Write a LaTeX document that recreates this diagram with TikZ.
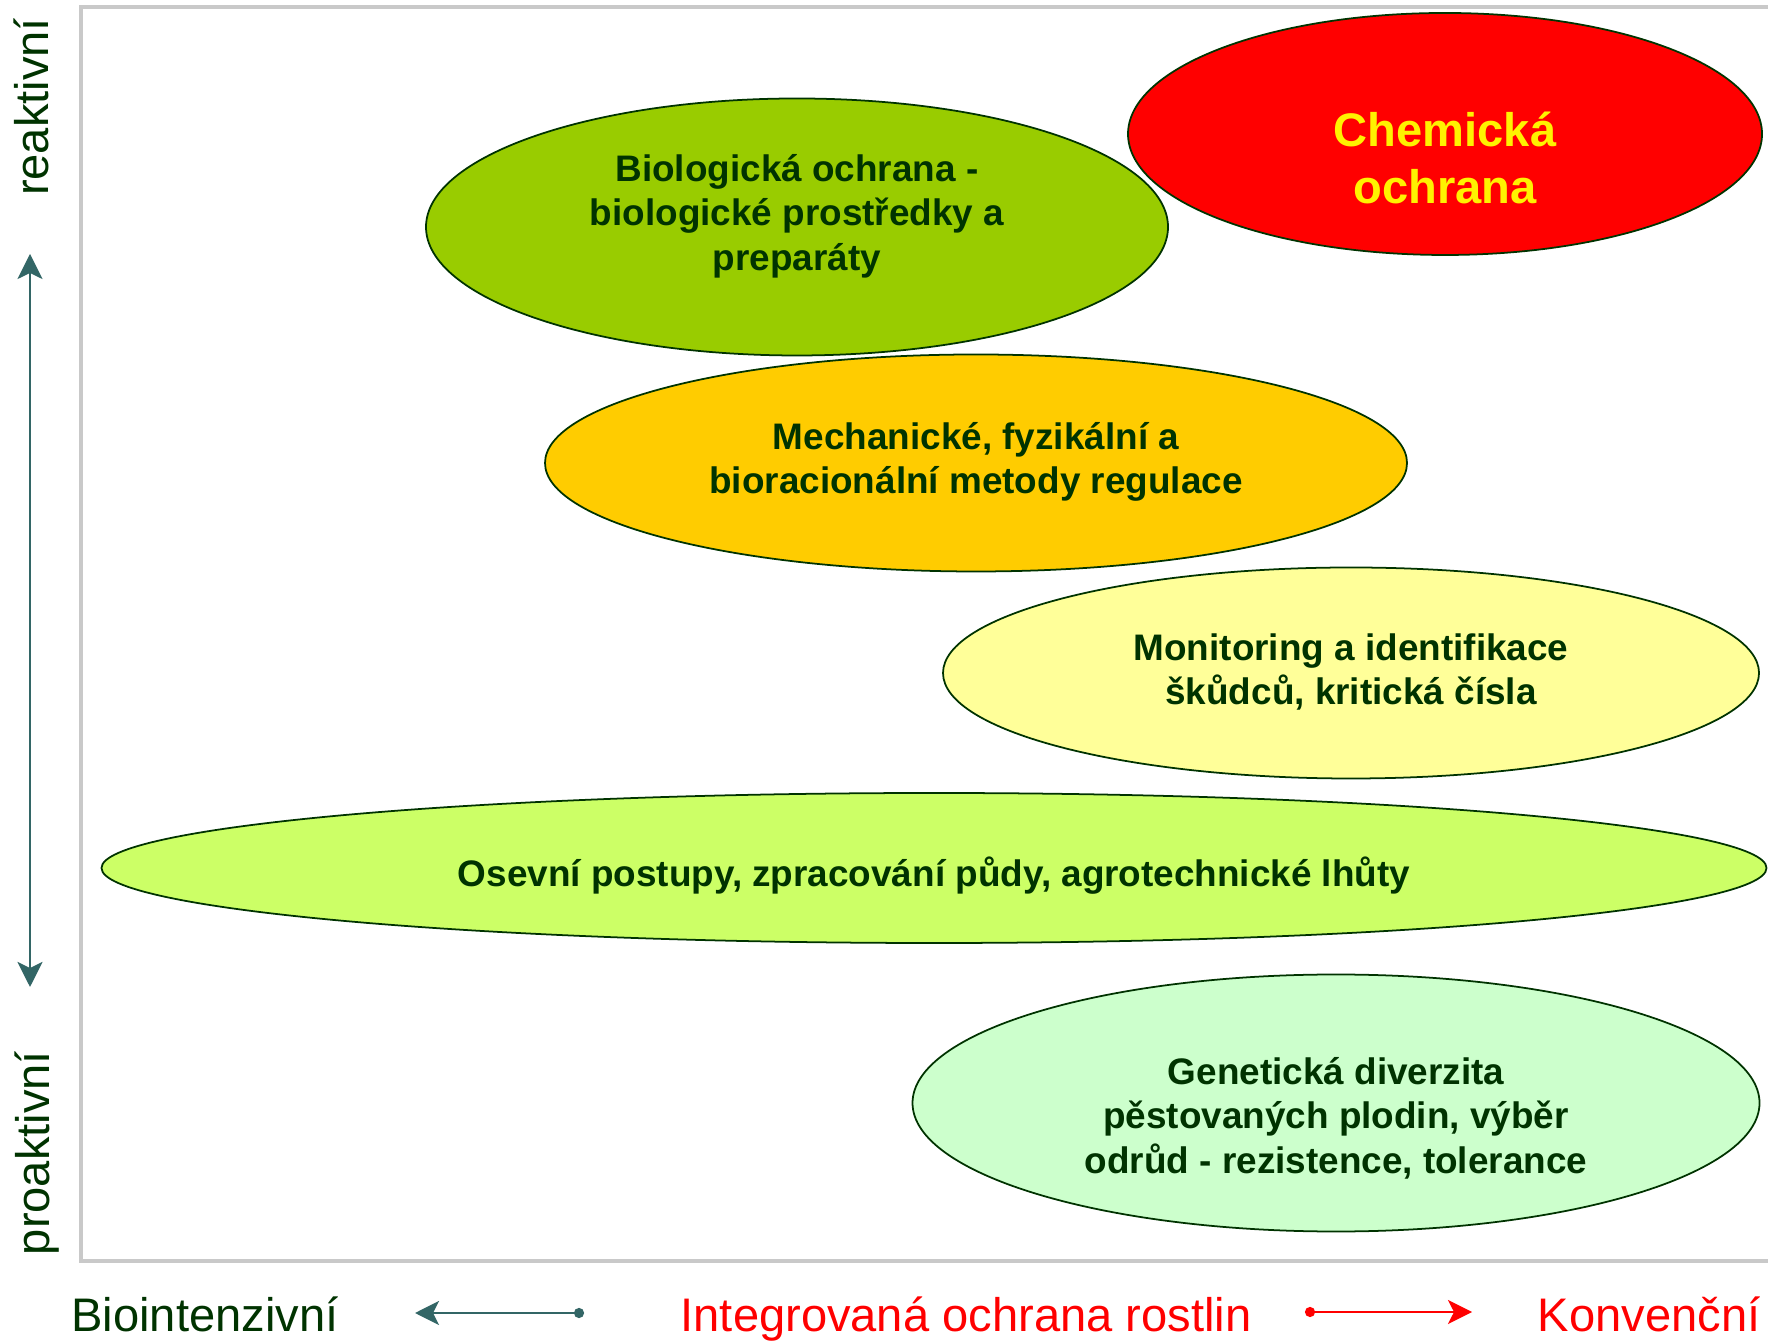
\documentclass[tikz,border=0pt]{standalone}
\usepackage{fontspec}
\setmainfont{Liberation Sans}
\usepackage{tikz}
\usetikzlibrary{shapes.geometric,arrows.meta,positioning}

\definecolor{darkgr}{HTML}{003300}
\definecolor{axteal}{HTML}{336666}
\definecolor{biogr}{HTML}{99CC00}
\definecolor{mechor}{HTML}{FFCC00}
\definecolor{monyel}{HTML}{FFFF99}
\definecolor{osevgr}{HTML}{CCFF66}
\definecolor{genegr}{HTML}{CCFFCC}

\begin{document}
\begin{tikzpicture}[
    oval/.style={ellipse, draw=darkgr, line width=0.5pt, inner sep=0pt, outer sep=0pt},
    inlbl/.style={text=darkgr, align=center, font=\fontsize{10.5}{12.65}\selectfont\bfseries},
    axlbl/.style={font=\fontsize{13.4}{16}\selectfont},
    axarr/.style={axteal, line width=0.85pt,
      arrows={Stealth[length=2.5mm,width=2.5mm,inset=0.6mm]-Stealth[length=2.5mm,width=2.5mm,inset=0.6mm]}},
    dotarr/.style={line width=0.85pt,
      arrows={Circle[length=1mm]-Stealth[length=2.4mm,width=2.4mm,inset=0.6mm]}}
  ]
    \useasboundingbox (0,0) rectangle (17.68,13.40);

    % frame
    \draw[black!21, line width=1.1pt] (17.9,13.33) -- (0.81,13.33) -- (0.81,0.79) -- (17.9,0.79);

    % methods
    \node[oval, fill=biogr, minimum width=7.42cm, minimum height=2.57cm] (bio) at (7.97,11.13) {};
    \node[oval, fill=red, minimum width=6.34cm, minimum height=2.42cm] (chem) at (14.45,12.06) {};
    \node[oval, fill=mechor, minimum width=8.62cm, minimum height=2.17cm] (mech) at (9.76,8.77) {};
    \node[oval, fill=monyel, minimum width=8.16cm, minimum height=2.11cm] (moni) at (13.51,6.67) {};
    \node[oval, fill=osevgr, minimum width=16.65cm, minimum height=1.50cm] (osev) at (9.34,4.72) {};
    \node[oval, fill=genegr, minimum width=8.47cm, minimum height=2.57cm] (gene) at (13.36,2.37) {};

    \node[inlbl] (biotxt) at ([yshift=0.11cm]bio.center) {Biologická ochrana -\\biologické prostředky a\\preparáty};
    \node[inlbl, text=yellow, font=\fontsize{13.4}{16.4}\selectfont\bfseries] (chemtxt)
      at ([yshift=-0.24cm]chem.center) {Chemická\\ochrana};
    \node[inlbl] (mechtxt) at ([yshift=0.01cm]mech.center) {Mechanické, fyzikální a\\bioracionální metody regulace};
    \node[inlbl] (monitxt) at ([yshift=0.01cm]moni.center) {Monitoring a identifikace\\škůdců, kritická čísla};
    \node[inlbl] (osevtxt) at ([yshift=-0.08cm]osev.center) {Osevní postupy, zpracování půdy, agrotechnické lhůty};
    \node[inlbl] (genetxt) at ([yshift=-0.15cm]gene.center) {Genetická diverzita\\pěstovaných plodin, výběr\\odrůd - rezistence, tolerance};

    % axes
    \node[axlbl, text=darkgr, rotate=90] (reakt) at (0.31,12.33) {reaktivní};
    \node[axlbl, text=darkgr, rotate=90] (proakt) at (0.37,1.87) {proaktivní};
    \coordinate (vtop) at (0.30,10.86);
    \coordinate (vbot) at (0.30,3.53);
    \draw[axarr] (vtop) -- (vbot);

    \node[axlbl, text=darkgr, anchor=base] (bioint) at (2.05,0.09) {Biointenzivní};
    \node[axlbl, text=red, anchor=base] (integ) at (9.66,0.09) {Integrovaná ochrana rostlin};
    \node[axlbl, text=red, anchor=base] (konv) at (16.49,0.09) {Konvenční};
    \coordinate (lfrom) at (5.84,0.27);
    \coordinate (lto) at (4.15,0.27);
    \draw[dotarr, axteal] (lfrom) -- (lto);
    \coordinate (rfrom) at (13.05,0.28);
    \coordinate (rto) at (14.72,0.28);
    \draw[dotarr, red] (rfrom) -- (rto);
  \end{tikzpicture}
\end{document}
